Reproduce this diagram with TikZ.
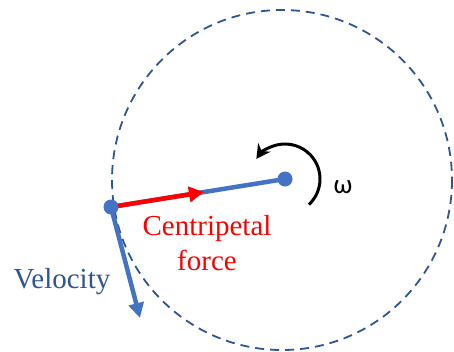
\documentclass[tikz,border=0pt]{standalone}
\usepackage{fontspec}
\setmainfont{Liberation Serif}
\newfontfamily\omegafont{Carlito}
\usetikzlibrary{arrows.meta}
\definecolor{dotblue}{HTML}{4472C4}
\definecolor{darkblue}{HTML}{2F5597}
\tikzset{
  dot/.style={circle,fill=dotblue,inner sep=0pt,minimum size=15pt},
  bigtip/.style={-{Triangle[length=15pt,width=15pt]}},
}
\begin{document}
\begin{tikzpicture}[x=1pt,y=-1pt,line cap=butt,line join=round]
	\useasboundingbox (0,0) rectangle (454,351);
	\draw[darkblue,line width=1.8pt,dash pattern=on 9pt off 6pt] (282,180) circle (170);
	\coordinate (ctr) at (285,179);
	\coordinate (obj) at (111,207);
	\coordinate (ftip) at (204,192);
	\coordinate (vtip) at (140,318);
	\draw[dotblue,line width=4.5pt] (obj) -- (ctr);
	\draw[red,line width=4.5pt,bigtip] (obj) -- (ftip);
	\draw[dotblue,line width=4.5pt,bigtip] (obj) -- (vtip);
	\draw[line width=3pt,-{Stealth[length=14pt,width=15pt]}] ([shift={(47:35)}]ctr) arc (47:-145:35);
	\node[dot] (ctrdot) at (ctr) {};
	\node[dot] (objdot) at (obj) {};
	\node[red,align=center,font=\fontsize{29}{35}\selectfont] (force) at (207,243) {Centripetal\\force};
	\node[darkblue,anchor=base,font=\fontsize{29}{35}\selectfont] (vel) at (62,288) {Velocity};
	\node[anchor=base,font=\omegafont\fontsize{27}{32}\selectfont] (omega) at (343,193) {ω};
\end{tikzpicture}
\end{document}
